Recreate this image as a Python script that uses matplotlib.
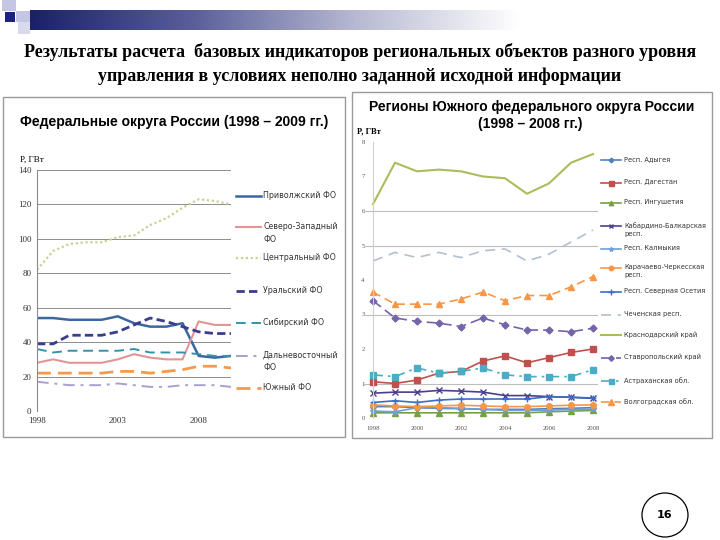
import numpy as np
import matplotlib
matplotlib.use("Agg")
import matplotlib.pyplot as plt
from matplotlib.patches import Rectangle, Ellipse
from matplotlib.lines import Line2D
from matplotlib.colors import LinearSegmentedColormap

W, H = 720, 540

# ---------- data: federal districts (GW) ----------
years_fd = list(range(1998, 2011))
fd_names = ["Приволжский ФО", "Северо-Западный\nФО", "Центральный ФО", "Уральский ФО",
            "Сибирский ФО", "Дальневосточный\nФО", "Южный ФО"]
privolzh = [54, 54, 53, 53, 53, 55, 51, 49, 49, 51, 32, 31, 32]
sev_zap = [28, 30, 28, 28, 28, 30, 33, 31, 30, 30, 52, 50, 50]
central = [82, 93, 97, 98, 98, 101, 102, 108, 112, 118, 123, 122, 120]
ural = [39, 39, 44, 44, 44, 46, 50, 54, 52, 49, 46, 45, 45]
sibir = [36, 34, 35, 35, 35, 35, 36, 34, 34, 34, 33, 32, 32]
dalvost = [17, 16, 15, 15, 15, 16, 15, 14, 14, 15, 15, 15, 14]
yug = [22, 22, 22, 22, 22, 23, 23, 22, 23, 24, 26, 26, 25]
fd_series = [privolzh, sev_zap, central, ural, sibir, dalvost, yug]

# ---------- data: regions of the Southern FD (GW) ----------
years_rg = list(range(1998, 2009))
rg_names = ["Респ. Адыгея", "Респ. Дагестан", "Респ. Ингушетия", "Кабардино-Балкарская\nресп.",
            "Респ. Калмыкия", "Карачаево-Черкесская\nресп.", "Респ. Северная Осетия",
            "Чеченская респ.", "Краснодарский край", "Ставропольский край",
            "Астраханская обл.", "Волгоградская обл."]
adygea = [0.33, 0.33, 0.30, 0.28, 0.27, 0.25, 0.25, 0.25, 0.27, 0.28, 0.30]
dagestan = [1.05, 1.0, 1.1, 1.3, 1.35, 1.65, 1.8, 1.6, 1.75, 1.9, 2.0]
ingush = [0.15, 0.15, 0.15, 0.15, 0.15, 0.15, 0.15, 0.15, 0.18, 0.20, 0.22]
kbr = [0.72, 0.75, 0.75, 0.80, 0.78, 0.75, 0.65, 0.65, 0.62, 0.60, 0.57]
kalmyk = [0.20, 0.18, 0.30, 0.30, 0.28, 0.25, 0.22, 0.22, 0.23, 0.25, 0.25]
kchr = [0.38, 0.35, 0.33, 0.35, 0.37, 0.35, 0.33, 0.33, 0.35, 0.37, 0.38]
osetia = [0.45, 0.50, 0.45, 0.52, 0.55, 0.55, 0.55, 0.55, 0.62, 0.60, 0.58]
chechnya = [4.55, 4.8, 4.65, 4.8, 4.65, 4.85, 4.9, 4.55, 4.75, 5.1, 5.45]
krasnodar = [6.2, 7.4, 7.15, 7.2, 7.15, 7.0, 6.95, 6.5, 6.8, 7.4, 7.65]
stavropol = [3.4, 2.9, 2.8, 2.75, 2.65, 2.9, 2.7, 2.55, 2.55, 2.5, 2.6]
astrakhan = [1.25, 1.2, 1.45, 1.3, 1.35, 1.45, 1.25, 1.2, 1.2, 1.2, 1.4]
volgograd = [3.65, 3.3, 3.3, 3.3, 3.45, 3.65, 3.4, 3.55, 3.55, 3.8, 4.1]
rg_series = [adygea, dagestan, ingush, kbr, kalmyk, kchr, osetia,
             chechnya, krasnodar, stavropol, astrakhan, volgograd]


def box(x0, y0, x1, y1):
    return [x0 / W, 1 - y1 / H, (x1 - x0) / W, (y1 - y0) / H]


def fx(x): return x / W
def fy(y): return 1 - y / H


fig = plt.figure(figsize=(7.2, 5.4), dpi=100)
fig.patch.set_facecolor("white")

# ---------- slide header ----------
for (x0, y0, x1, y1, c) in [(2, 0, 16, 11, "#c5c6e4"), (16, 11, 30, 22, "#c5c6e4"),
                            (18, 22, 30, 34, "#d9d9ee"), (5, 12, 15, 22, "#1c237a")]:
    fig.patches.append(Rectangle((fx(x0), fy(y1)), (x1 - x0) / W, (y1 - y0) / H,
                                 transform=fig.transFigure, color=c, lw=0))
bar = fig.add_axes(box(30, 10, 520, 30))
cm = LinearSegmentedColormap.from_list("hdr", ["#1a2168", "#5a5f9a", "#b8b9d2", "#ffffff"])
bar.imshow(np.linspace(0, 1, 256)[None, :], cmap=cm, aspect="auto")
bar.axis("off")

fig.text(0.5, fy(52), "Результаты расчета  базовых индикаторов региональных объектов разного уровня",
         ha="center", va="center", fontsize=13, fontweight="bold", family="Liberation Serif")
fig.text(0.5, fy(76), "управления в условиях неполно заданной исходной информации",
         ha="center", va="center", fontsize=13, fontweight="bold", family="Liberation Serif")

# panel frames
for (x0, y0, x1, y1) in [(3, 97, 345, 437), (352, 92, 712, 438)]:
    fig.patches.append(Rectangle((fx(x0), fy(y1)), (x1 - x0) / W, (y1 - y0) / H,
                                 transform=fig.transFigure, fill=False, ec="#9a9a9a", lw=1))

# page number
fig.patches.append(Ellipse((fx(665), fy(515)), 46 / W, 44 / H, transform=fig.transFigure,
                           fill=False, ec="black", lw=0.9))
fig.text(fx(665), fy(515), "16", ha="center", va="center", fontsize=8, fontweight="bold")

# ---------- left chart: federal districts ----------
fd_styles = [dict(color="#3a67a0", ls="-", lw=1.8),
             dict(color="#e39494", ls="-", lw=1.5),
             dict(color="#c2d592", ls=(0, (1, 1.2)), lw=1.6),
             dict(color="#3c3c8c", ls=(0, (3, 1.5)), lw=2.0),
             dict(color="#3592a8", ls=(0, (5, 3)), lw=1.4),
             dict(color="#a99fd0", ls=(0, (6, 3, 1.5, 3)), lw=1.4),
             dict(color="#f59a4c", ls=(0, (5, 2.5)), lw=2.0)]

axl = fig.add_axes(box(37, 170, 231, 411))
for vals, st in zip(fd_series, fd_styles):
    axl.plot(years_fd, vals, **st)
axl.set_xlim(1998, 2010)
axl.set_ylim(0, 140)
axl.set_yticks(range(0, 141, 20))
axl.set_xticks([1998, 2003, 2008])
axl.grid(axis="y", color="#8c8c8c", lw=0.7)
axl.set_axisbelow(True)
for s in ["top", "right", "bottom"]:
    axl.spines[s].set_visible(False)
axl.spines["left"].set_color("#8c8c8c")
axl.tick_params(length=0, labelsize=6.5, colors="#333333", pad=4)
for t in axl.get_xticklabels() + axl.get_yticklabels():
    t.set_family("Liberation Serif")

fig.text(fx(174), fy(122), "Федеральные округа России (1998 – 2009 гг.)", ha="center", va="center",
         fontsize=10, fontweight="bold", family="Liberation Sans")
fig.text(fx(20), fy(160), "P, ГВт", ha="left", va="center", fontsize=6.5, family="Liberation Serif")

fd_leg_y = [196, 227, 258, 291, 323, 356, 388]
for name, st, y in zip(fd_names, fd_styles, fd_leg_y):
    fig.lines.append(Line2D([fx(236), fx(261)], [fy(y), fy(y)], transform=fig.transFigure, **st))
    fig.text(fx(263), fy(y) + 5 / H, name, ha="left", va="top", fontsize=5.7,
             linespacing=1.5, color="#333333")

# ---------- right chart: regions of the Southern FD ----------
rg_styles = [dict(color="#4f81bd", ls="-", marker="D", ms=3),
             dict(color="#c0504d", ls="-", marker="s", ms=4.5),
             dict(color="#77a043", ls="-", marker="^", ms=4),
             dict(color="#4a3f8a", ls="-", marker="x", ms=4),
             dict(color="#6f9fd8", ls="-", marker="*", ms=4),
             dict(color="#f79646", ls="-", marker="o", ms=4),
             dict(color="#3a6fc4", ls="-", marker="+", ms=5),
             dict(color="#b3bfd2", ls=(0, (6, 4)), marker=None),
             dict(color="#a9bd5c", ls="-", marker=None, lw=1.5),
             dict(color="#7564a8", ls=(0, (6, 3)), marker="D", ms=3.5),
             dict(color="#4bacc6", ls=(0, (6, 3, 1.5, 3)), marker="s", ms=4.5),
             dict(color="#f79646", ls=(0, (5, 3)), marker="^", ms=5)]

axr = fig.add_axes(box(373, 142, 593, 418))
for y in [1, 3, 5, 6]:
    axr.axhline(y, color="#bdbdbd", lw=0.8, xmin=-0.04, xmax=1.02, clip_on=False)
for vals, st in zip(rg_series, rg_styles):
    kw = dict(st)
    kw.setdefault("lw", 1.2)
    axr.plot(years_rg, vals, clip_on=False, **kw)
axr.set_xlim(1998, 2008)
axr.set_ylim(0, 8)
axr.set_yticks(range(0, 9))
axr.set_xticks(range(1998, 2009, 2))
for s in ["top", "right", "bottom"]:
    axr.spines[s].set_visible(False)
axr.spines["left"].set_color("#d0d0d0")
axr.tick_params(length=0, labelsize=4.8, colors="#555555", pad=6)
for t in axr.get_xticklabels() + axr.get_yticklabels():
    t.set_family("Liberation Serif")

fig.text(fx(532), fy(107), "Регионы Южного федерального округа России", ha="center", va="center",
         fontsize=10, fontweight="bold", family="Liberation Sans")
fig.text(fx(530), fy(124), "(1998 – 2008 гг.)", ha="center", va="center",
         fontsize=10, fontweight="bold", family="Liberation Sans")
fig.text(fx(357), fy(131), "P, ГВт", ha="left", va="center", fontsize=6,
         fontweight="bold", family="Liberation Serif")

rg_leg_y = [160, 183, 203, 226, 249, 268, 292, 315, 335, 358, 381, 402]
for name, st, y in zip(rg_names, rg_styles, rg_leg_y):
    kw = dict(st)
    kw.setdefault("lw", 1.2)
    if kw.get("ms"):
        kw["ms"] = kw["ms"] * 0.8
    fig.lines.append(Line2D([fx(601), fx(611), fx(621)], [fy(y)] * 3, transform=fig.transFigure,
                            markevery=[1], **kw))
    fig.text(fx(624), fy(y) + 4 / H, name, ha="left", va="top", fontsize=4.8,
             linespacing=1.4, color="#333333")

fig.savefig("out.png", dpi=100, facecolor="white")
